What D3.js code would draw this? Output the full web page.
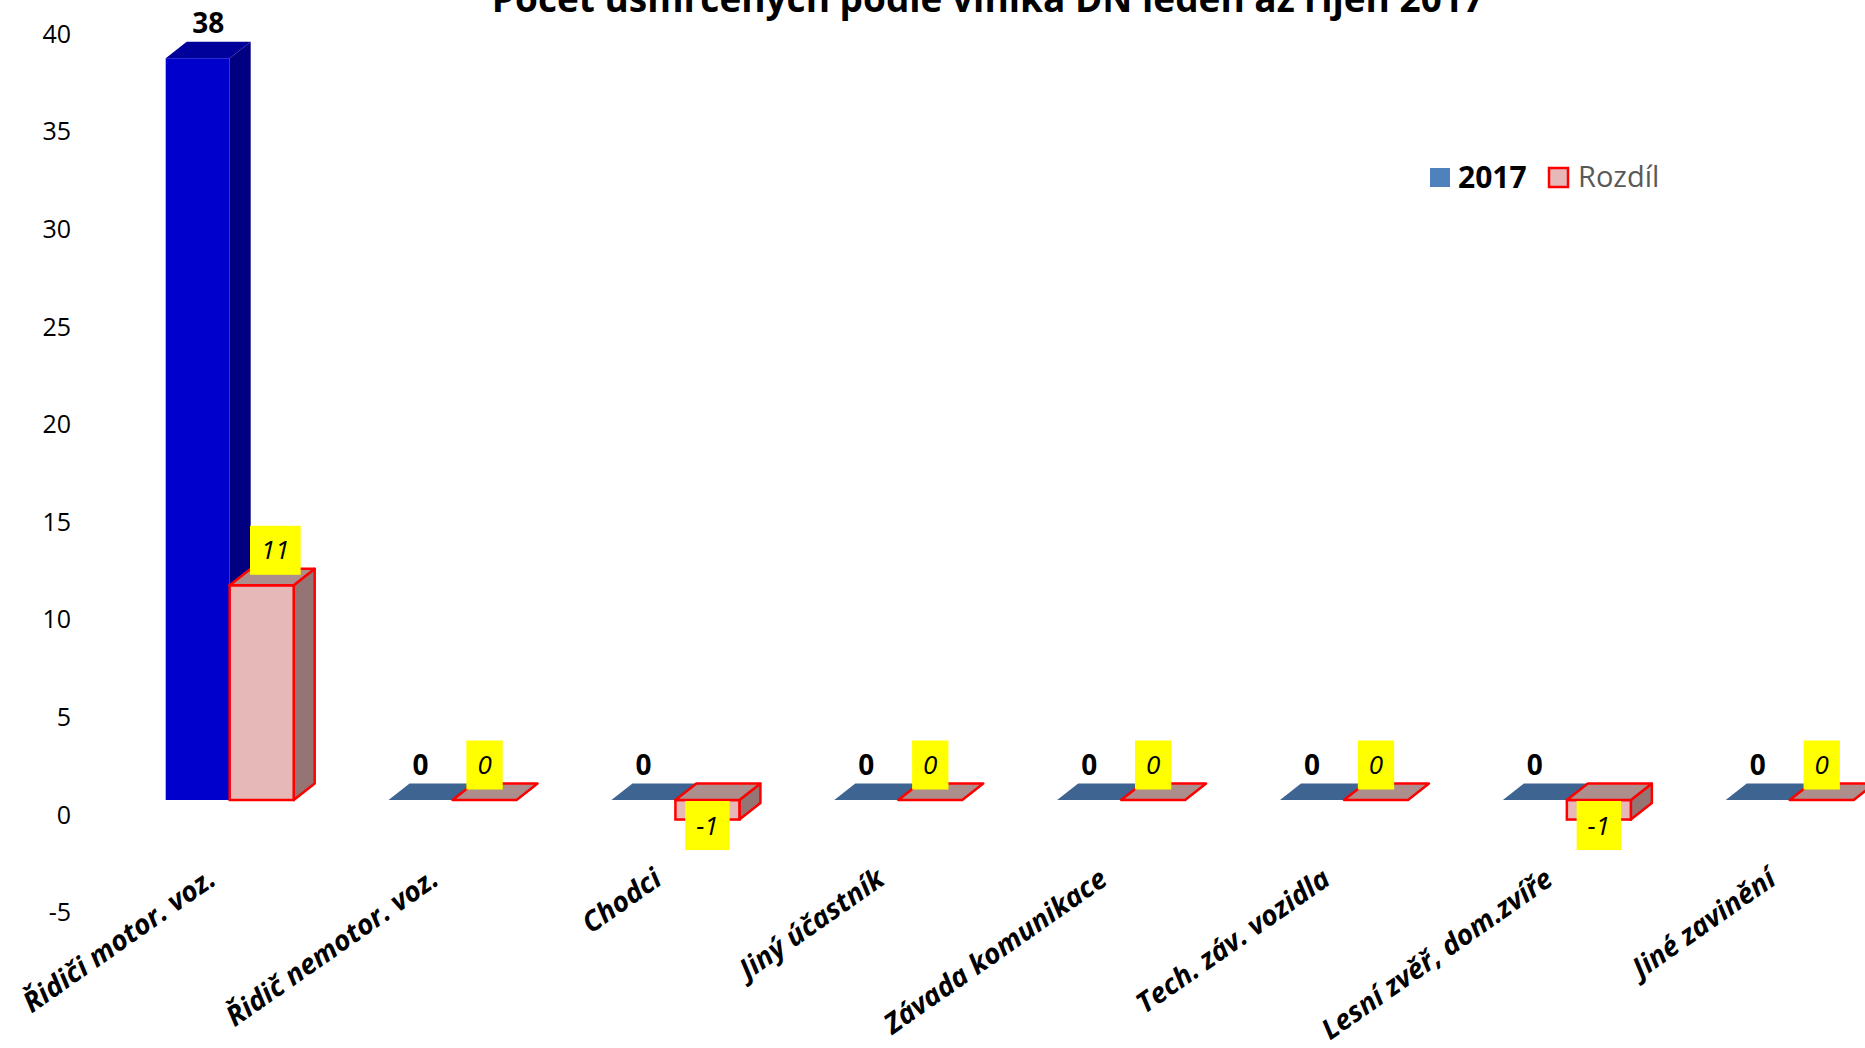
<!DOCTYPE html>
<html>
<head>
<meta charset="utf-8">
<script src="https://d3js.org/d3.v7.min.js"></script>
<style>
    body { margin: 0; background: #fff; }
    svg { display: block; font-family: "Open Sans", sans-serif; }
</style>
</head>
<body>
<svg></svg>
<script>
// data
var categories = ["Řidiči motor. voz.", "Řidič nemotor. voz.", "Chodci", "Jiný účastník",
    "Závada komunikace", "Tech. záv. vozidla", "Lesní zvěř, dom.zvíře", "Jiné zavinění"];
var series = ["2017", "Rozdíl"];
var values2017 = [38, 0, 0, 0, 0, 0, 0, 0];
var valuesRozdil = [11, 0, -1, 0, 0, 0, -1, 0];
var yTicks = [-5, 0, 5, 10, 15, 20, 25, 30, 35, 40];
var title = "Počet usmrcených podle viníka DN leden až říjen 2017";

var width = 1865,
    height = 1048;

// 3d depth of the boxes
var depthX = 21,
    depthY = 16.5;

var svg = d3.select("svg")
    .attr("width", width)
    .attr("height", height);

svg.append("rect")
    .attr("width", width)
    .attr("height", height)
    .attr("fill", "#fff");

var step = 222.86,
    inner = 0.4257;

var x = d3.scaleBand()
    .domain(categories)
    .range([165.7 - inner / 2 * step, 165.7 - inner / 2 * step + step * categories.length])
    .paddingInner(inner)
    .paddingOuter(inner / 2);

var xs = d3.scaleBand()
    .domain(series)
    .range([0, x.bandwidth()]);

var y = d3.scaleLinear()
    .domain([-5, 40])
    .range([897.6, 19.2]);

// y axis, labels only
var yAxis = svg.append("g")
    .attr("class", "axis axis--y")
    .attr("transform", "translate(71,15)")
    .call(d3.axisLeft(y).tickValues(yTicks).tickSize(0).tickPadding(0).tickFormat(String));

yAxis.select(".domain").remove();
yAxis.selectAll("text")
    .style("font-family", "'Open Sans', sans-serif")
    .style("font-size", "25px")
    .attr("fill", "#000");

var styles = {
    "2017": function(i) {
        if (i === 0) return { front: "#0000cc", top: "#00009a", side: "#000080", stroke: "none" };
        return { front: "#4f81bd", top: "#3e6491", side: "#385d8a", stroke: "none" };
    },
    "Rozdíl": function(i) {
        return { front: "#e6b9b8", top: "#ae8e8c", side: "#957574", stroke: "#ff0000" };
    }
};

function drawBox(g, x0, w, v, st) {
    var y0 = y(0), y1 = y(v);
    var top = Math.min(y0, y1), bot = Math.max(y0, y1);
    var sw = st.stroke === "none" ? 0 : 2.5;

    if (bot - top > 0.5) {
        g.append("path")
            .attr("d", "M" + (x0 + w) + "," + top + "L" + (x0 + w + depthX) + "," + (top - depthY) +
                "L" + (x0 + w + depthX) + "," + (bot - depthY) + "L" + (x0 + w) + "," + bot + "Z")
            .attr("fill", st.side)
            .attr("stroke", st.stroke)
            .attr("stroke-width", sw)
            .attr("stroke-linejoin", "round");

        g.append("rect")
            .attr("x", x0)
            .attr("y", top)
            .attr("width", w)
            .attr("height", bot - top)
            .attr("fill", st.front)
            .attr("stroke", st.stroke)
            .attr("stroke-width", sw);
    }

    g.append("path")
        .attr("d", "M" + x0 + "," + top + "L" + (x0 + w) + "," + top +
            "L" + (x0 + w + depthX) + "," + (top - depthY) + "L" + (x0 + depthX) + "," + (top - depthY) + "Z")
        .attr("fill", st.top)
        .attr("stroke", st.stroke)
        .attr("stroke-width", sw)
        .attr("stroke-linejoin", "round");
}

var bars = svg.append("g").attr("class", "bars");
var labels = svg.append("g").attr("class", "labels");

categories.forEach(function(cat, i) {
    var g = bars.append("g");
    var vals = [values2017[i], valuesRozdil[i]];

    series.forEach(function(s, k) {
        var x0 = x(cat) + xs(s);
        drawBox(g, x0, xs.bandwidth(), vals[k], styles[s](i));
    });

    // 2017 label
    var v = values2017[i];
    var cx = x(cat) + xs("2017") + xs.bandwidth() / 2 + (v > 0 ? depthX / 2 : 0);
    labels.append("text")
        .attr("x", cx)
        .attr("y", y(v) - depthY - 18.5)
        .attr("dy", "0.35em")
        .attr("text-anchor", "middle")
        .style("font-size", "28px")
        .style("font-weight", "bold")
        .attr("fill", "#000")
        .text(v);

    // Rozdíl label on yellow box
    var r = valuesRozdil[i];
    var rx = x(cat) + xs("Rozdíl") + xs.bandwidth() / 2 + (r > 0 ? depthX * 0.65 : 0);
    var ry = r >= 0 ? y(r) - depthY - 18.5 : y(r) + 6;
    var lg = labels.append("g");
    var box = lg.append("rect").attr("fill", "#ffff00");
    var t = lg.append("text")
        .attr("x", rx)
        .attr("y", ry)
        .attr("dy", "0.35em")
        .attr("text-anchor", "middle")
        .style("font-size", "26px")
        .style("font-style", "italic")
        .attr("fill", "#000")
        .text(r);
    var tw = t.node().getComputedTextLength();
    box.attr("x", rx - tw / 2 - 11)
        .attr("y", ry - 24.5)
        .attr("width", tw + 22)
        .attr("height", 49);
});

// category labels
svg.append("g")
    .attr("class", "axis axis--x")
    .selectAll("text")
    .data(categories)
    .enter().append("text")
    .attr("transform", function(d) {
        return "translate(" + (x(d) + x.bandwidth() / 2 - 24) + ",866) rotate(-35)";
    })
    .attr("dy", "0.75em")
    .attr("text-anchor", "end")
    .style("font-size", "28px")
    .style("font-weight", "bold")
    .style("font-style", "italic")
    .attr("fill", "#000")
    .text(function(d) { return d; });

// title, cut at the top like the source
svg.append("text")
    .attr("x", 988)
    .attr("y", 12)
    .attr("text-anchor", "middle")
    .style("font-size", "37px")
    .style("font-weight", "bold")
    .attr("fill", "#000")
    .text(title);

// legend
var legend = svg.append("g").attr("class", "legend");

legend.append("rect")
    .attr("x", 1430).attr("y", 168)
    .attr("width", 20).attr("height", 19)
    .attr("fill", "#4f81bd");
legend.append("text")
    .attr("x", 1458).attr("y", 177)
    .attr("dy", "0.35em")
    .style("font-size", "30px")
    .style("font-weight", "bold")
    .attr("fill", "#000")
    .text(series[0]);

legend.append("rect")
    .attr("x", 1549).attr("y", 168)
    .attr("width", 19).attr("height", 19)
    .attr("fill", "#e6b9b8")
    .attr("stroke", "#ff0000")
    .attr("stroke-width", 2.5);
legend.append("text")
    .attr("x", 1578).attr("y", 177)
    .attr("dy", "0.35em")
    .style("font-size", "29px")
    .attr("fill", "#595959")
    .text(series[1]);
</script>
</body>
</html>
